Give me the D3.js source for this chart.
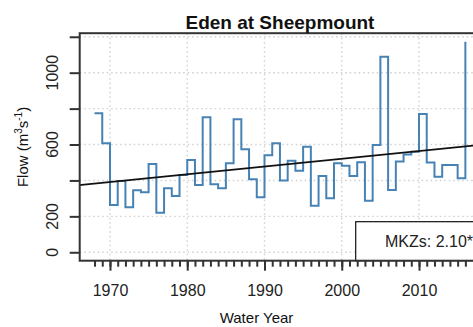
<!DOCTYPE html>
<html>
<head>
<meta charset="utf-8">
<script src="https://cdn.jsdelivr.net/npm/d3@7"></script>
<style>
  body { margin: 0; background: #fff; }
  svg { display: block; font-family: "Liberation Sans", Arial, sans-serif; }
</style>
</head>
<body>
<svg id="chart" width="473" height="327"></svg>
<script>
// annual flow, Eden at Sheepmount
const years = [1968, 1969, 1970, 1971, 1972, 1973, 1974, 1975, 1976, 1977, 1978, 1979,
  1980, 1981, 1982, 1983, 1984, 1985, 1986, 1987, 1988, 1989,
  1990, 1991, 1992, 1993, 1994, 1995, 1996, 1997, 1998, 1999,
  2000, 2001, 2002, 2003, 2004, 2005, 2006, 2007, 2008, 2009,
  2010, 2011, 2012, 2013, 2014, 2015, 2016];
const flow = [774, 607, 263, 397, 251, 345, 334, 492, 220, 356, 313, 430,
  514, 375, 752, 379, 356, 496, 741, 573, 406, 306,
  540, 607, 399, 510, 454, 588, 259, 425, 301, 496,
  482, 425, 501, 287, 597, 1089, 347, 506, 545, 560,
  770, 500, 421, 486, 486, 412, 1173];

// fitted trend, end points
const trendYears = [1966, 2018];
const trendFlow = [374, 598];

const majorYears = [1970, 1980, 1990, 2000, 2010];
const yTicks = [0, 200, 400, 600, 800, 1000, 1200];
const yTickLabels = [0, 200, 600, 1000];

const chartTitle = 'Eden at Sheepmount';
const xTitle = 'Water Year';
const legendText = 'MKZs: 2.10*';

const plot = { left: 79.7, right: 480.2, top: 33.2, bottom: 260.7 };
const ink = '#333';

const svg = d3.select('#chart');

// R style 4% padding round the data range
const xExt = d3.extent(years);
const xPad = (xExt[1] - xExt[0]) * 0.04;
const yMax = d3.max(flow);
const yPad = yMax * 0.04;

const x = d3.scaleLinear().domain([xExt[0] - xPad, xExt[1] + xPad]).range([plot.left, plot.right]);
const y = d3.scaleLinear().domain([-yPad, yMax + yPad]).range([plot.bottom, plot.top]);

svg.append('defs').append('clipPath')
  .attr('id', 'clip')
  .append('rect')
  .attr('x', plot.left).attr('y', plot.top)
  .attr('width', plot.right - plot.left)
  .attr('height', plot.bottom - plot.top);

// grid
const grid = svg.append('g').attr('clip-path', 'url(#clip)')
  .attr('stroke', '#cfcfcf').attr('stroke-width', 1.4).attr('stroke-dasharray', '1.5,3');
grid.selectAll('line.gx').data(majorYears).enter().append('line')
  .attr('x1', d => x(d)).attr('x2', d => x(d))
  .attr('y1', plot.top).attr('y2', plot.bottom);
grid.selectAll('line.gy').data(yTicks).enter().append('line')
  .attr('x1', plot.left).attr('x2', plot.right)
  .attr('y1', d => y(d)).attr('y2', d => y(d));

// flow as steps
const step = d3.line()
  .x((d, i) => x(years[i]))
  .y(d => y(d))
  .curve(d3.curveStepAfter);

svg.append('path')
  .datum(flow)
  .attr('clip-path', 'url(#clip)')
  .attr('d', step)
  .attr('fill', 'none')
  .attr('stroke', '#4682b4')
  .attr('stroke-width', 2);

// trend
svg.append('line')
  .attr('clip-path', 'url(#clip)')
  .attr('x1', x(trendYears[0])).attr('y1', y(trendFlow[0]))
  .attr('x2', x(trendYears[1])).attr('y2', y(trendFlow[1]))
  .attr('stroke', '#111')
  .attr('stroke-width', 1.8);

// legend
const legend = svg.append('g');
legend.append('rect')
  .attr('x', 355.7).attr('y', 221.7)
  .attr('width', plot.right - 355.7)
  .attr('height', plot.bottom - 221.7)
  .attr('fill', '#fff')
  .attr('stroke', '#111')
  .attr('stroke-width', 1.2);
legend.append('text')
  .attr('x', 385).attr('y', 246.7)
  .attr('font-size', 16)
  .attr('fill', '#222')
  .text(legendText);

// frame
svg.append('rect')
  .attr('x', plot.left).attr('y', plot.top)
  .attr('width', plot.right - plot.left)
  .attr('height', plot.bottom - plot.top)
  .attr('fill', 'none')
  .attr('stroke', ink)
  .attr('stroke-width', 2);

// x axis: minor ticks every year, labelled ticks every decade
const xMinor = svg.append('g')
  .attr('transform', 'translate(0,' + plot.bottom + ')')
  .call(d3.axisBottom(x).tickValues(years).tickSize(6).tickFormat(''));
const xMajor = svg.append('g')
  .attr('transform', 'translate(0,' + plot.bottom + ')')
  .call(d3.axisBottom(x).tickValues(majorYears).tickSize(10).tickPadding(14).tickFormat(d3.format('d')));

[xMinor, xMajor].forEach(g => {
  g.select('.domain').remove();
  g.selectAll('.tick line').attr('stroke', ink).attr('stroke-width', 2);
});
xMajor.selectAll('.tick text')
  .attr('font-size', 16)
  .attr('font-family', '"Liberation Sans", Arial, sans-serif')
  .attr('fill', '#222');

// y axis
const yAxis = svg.append('g')
  .attr('transform', 'translate(' + plot.left + ',0)')
  .call(d3.axisLeft(y).tickValues(yTicks).tickSize(10).tickFormat(''));
yAxis.select('.domain').remove();
yAxis.selectAll('.tick line').attr('stroke', ink).attr('stroke-width', 2);

svg.append('g').selectAll('text')
  .data(yTickLabels).enter()
  .append('text')
  .attr('transform', d => 'translate(58,' + y(d) + ') rotate(-90)')
  .attr('text-anchor', 'middle')
  .attr('font-size', 16)
  .attr('fill', '#222')
  .text(d => d);

// titles
svg.append('text')
  .attr('x', (plot.left + plot.right) / 2).attr('y', 29)
  .attr('text-anchor', 'middle')
  .attr('font-size', 19)
  .attr('font-weight', 'bold')
  .attr('fill', '#111')
  .text(chartTitle);

svg.append('text')
  .attr('x', 256.5).attr('y', 323)
  .attr('text-anchor', 'middle')
  .attr('font-size', 15)
  .attr('fill', '#111')
  .text(xTitle);

const yTitle = svg.append('text')
  .attr('transform', 'translate(28,' + ((plot.top + plot.bottom) / 2) + ') rotate(-90)')
  .attr('text-anchor', 'middle')
  .attr('font-size', 15)
  .attr('fill', '#111');
yTitle.append('tspan').text('Flow (m');
yTitle.append('tspan').attr('font-size', 10).attr('dy', -6).text('3');
yTitle.append('tspan').attr('dy', 6).text('s');
yTitle.append('tspan').attr('font-size', 10).attr('dy', -6).text('-1');
yTitle.append('tspan').attr('dy', 6).text(')');
</script>
</body>
</html>
